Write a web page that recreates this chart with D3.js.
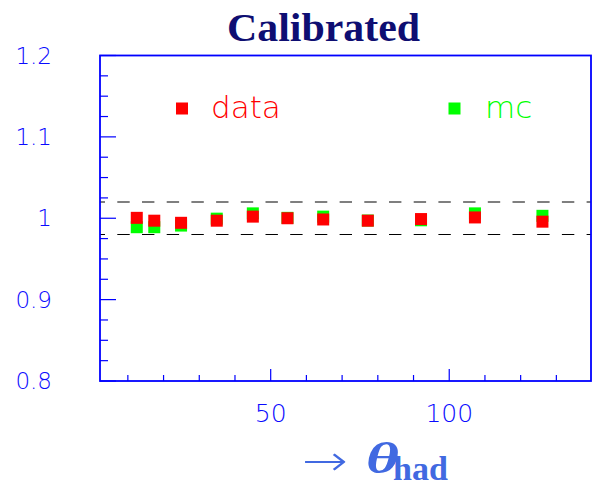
<!DOCTYPE html>
<html>
<head>
<meta charset="utf-8">
<script src="https://cdn.jsdelivr.net/npm/d3@7"></script>
<style>
  html, body { margin: 0; padding: 0; background: #fff; }
  svg { display: block; }
  .lbl { font-family: "DejaVu Sans", sans-serif; font-weight: 200; }
</style>
</head>
<body>
<svg id="chart" width="597" height="487"></svg>
<script>
// ---- data ----
const theta   = [12.5, 17.4, 24.9, 34.9, 45.0, 54.7, 64.7, 77.2, 92.1, 107.2, 126.1];
const dataVal = [1.0005, 0.997, 0.9944, 0.997, 1.002, 1.000, 0.9985, 0.997, 0.999, 1.001, 0.9958];
const mcVal   = [0.989, 0.989, 0.991, 0.9995, 1.006, 1.0005, 1.002, 0.9972, 0.9975, 1.006, 1.003];
const xTickVals = [50, 100];
const yTickVals = [0.8, 0.9, 1.0, 1.1, 1.2];
const bandLines = [0.98, 1.02];
const seriesNames = ["data", "mc"];
const titleText = "Calibrated";

const svg = d3.select("#chart");
const L = 100, R = 591, T = 55.5, B = 381;
const x = d3.scaleLinear().domain([2.2, 139.7]).range([L, R]);
const y = d3.scaleLinear().domain([0.8, 1.2]).range([B, T]);

const axisCol = "#0000ff";
const lblCol = "#0a0aff";

// title
svg.append("text").attr("x", 323.5).attr("y", 40.5)
  .attr("text-anchor", "middle")
  .attr("font-family", "Liberation Serif, serif").attr("font-weight", "bold")
  .attr("font-size", 40).attr("fill", "#0e0e72")
  .attr("textLength", 193).attr("lengthAdjust", "spacingAndGlyphs")
  .text(titleText);

// dashed reference lines
svg.selectAll(".band").data(bandLines).enter().append("line")
  .attr("x1", L).attr("x2", R)
  .attr("y1", d => y(d)).attr("y2", d => y(d))
  .attr("stroke", "#000").attr("stroke-width", 1.1)
  .attr("stroke-dasharray", "12.4,12.3").attr("stroke-dashoffset", 7.4);

// y ticks (inside, from left)
const yMinor = d3.range(0.8, 1.2001, 0.025);
svg.selectAll(".ymin").data(yMinor).enter().append("line")
  .attr("x1", L).attr("x2", d => L + (Math.abs(Math.round(d * 10) - d * 10) < 1e-6 ? 16 : 8))
  .attr("y1", d => y(d)).attr("y2", d => y(d))
  .attr("stroke", axisCol).attr("stroke-width", 1.2);

// x ticks (inside, from bottom)
const xMinor = d3.range(10, 140, 10);
svg.selectAll(".xmin").data(xMinor).enter().append("line")
  .attr("x1", d => x(d)).attr("x2", d => x(d))
  .attr("y1", B).attr("y2", d => B - (d % 50 === 0 ? 12 : 6))
  .attr("stroke", axisCol).attr("stroke-width", 1.2);

// frame
svg.append("rect").attr("x", L).attr("y", T).attr("width", R - L).attr("height", B - T)
  .attr("fill", "none").attr("stroke", axisCol).attr("stroke-width", 1.8);

// y labels
const fmt = d => (Math.abs(d - 1) < 1e-9 ? "1" : d3.format(".1f")(d));
svg.selectAll(".ylab").data(yTickVals).enter().append("text")
  .attr("class", "lbl")
  .attr("x", 52).attr("y", d => y(d) + 8)
  .attr("text-anchor", "end").attr("font-size", 23).attr("fill", lblCol)
  .text(fmt);

// x labels
svg.selectAll(".xlab").data(xTickVals).enter().append("text")
  .attr("class", "lbl")
  .attr("x", d => x(d)).attr("y", 421.5)
  .attr("text-anchor", "middle").attr("font-size", 25).attr("fill", lblCol)
  .text(d => d);

// x axis title: → θ_had
const xtCol = "#4169e1";
svg.append("text").attr("x", 302).attr("y", 475).attr("fill", xtCol)
  .attr("font-family", "DejaVu Sans, sans-serif").attr("font-weight", 200).attr("font-size", 42)
  .attr("textLength", 46).attr("lengthAdjust", "spacingAndGlyphs")
  .text("→");
svg.append("text").attr("x", 366).attr("y", 473).attr("fill", xtCol)
  .attr("font-family", "Liberation Serif, serif").attr("font-size", 44)
  .attr("font-weight", "bold").attr("font-style", "italic")
  .attr("textLength", 33).attr("lengthAdjust", "spacingAndGlyphs")
  .text("θ");
svg.append("text").attr("x", 393).attr("y", 480).attr("fill", xtCol)
  .attr("font-family", "Liberation Serif, serif").attr("font-size", 34).attr("font-weight", "bold")
  .text("had");

// markers
const S = 12;
const pts = (vals) => theta.map((t, i) => ({ t, v: vals[i] }));
svg.selectAll(".mc").data(pts(mcVal)).enter().append("rect")
  .attr("x", d => x(d.t) - S / 2).attr("y", d => y(d.v) - S / 2)
  .attr("width", S).attr("height", S).attr("fill", "#00ff00");
svg.selectAll(".dt").data(pts(dataVal)).enter().append("rect")
  .attr("x", d => x(d.t) - S / 2).attr("y", d => y(d.v) - S / 2)
  .attr("width", S).attr("height", S).attr("fill", "#ff0000");

// legend
const legend = [
  { name: seriesNames[0], col: "#ff0000", mx: 182, tx: 211 },
  { name: seriesNames[1], col: "#00ff00", mx: 454.5, tx: 485 }
];
legend.forEach(l => {
  svg.append("rect").attr("x", l.mx - 6).attr("y", 102.5).attr("width", 12).attr("height", 12)
    .attr("fill", l.col);
  svg.append("text").attr("class", "lbl").attr("x", l.tx).attr("y", 118.3)
    .attr("font-size", 31).attr("fill", l.col).text(l.name);
});
</script>
</body>
</html>
